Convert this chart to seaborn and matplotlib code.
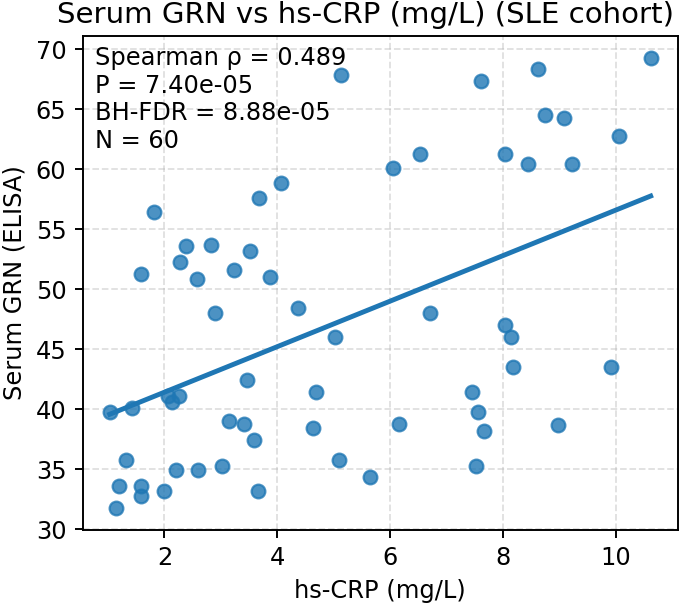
import numpy as np
import pandas as pd
import matplotlib
matplotlib.use("Agg")
import matplotlib.pyplot as plt
import seaborn as sns

# hs-CRP (mg/L) and serum GRN (ELISA)
crp = [5.13, 4.06, 3.67, 1.81, 2.38, 2.82, 3.52, 2.27, 3.24, 1.59, 2.58, 3.88,
       6.05, 6.53, 7.61, 8.63, 10.62, 8.75, 9.09, 8.04, 8.45, 9.23, 10.06,
       2.89, 4.36, 5.02, 3.46, 4.68, 1.03, 1.43, 2.06, 2.25, 2.13, 3.15, 3.41,
       3.59, 4.63, 1.32, 2.21, 2.60, 3.02, 5.09, 5.65, 1.19, 1.59, 1.58, 2.00,
       3.65, 1.15,
       6.70, 8.04, 8.14, 8.18, 9.91, 7.46, 7.55, 7.67, 7.53, 6.16, 8.98]
grn = [67.8, 58.8, 57.55, 56.4, 53.6, 53.7, 53.2, 52.3, 51.6, 51.25, 50.86, 51.0,
       60.13, 61.25, 67.33, 68.33, 69.22, 64.52, 64.28, 61.25, 60.42, 60.42, 62.75,
       48.05, 48.42, 46.0, 42.44, 41.42, 39.72, 40.1, 41.13, 41.08, 40.58, 39.0,
       38.78, 37.44, 38.44, 35.8, 34.92, 34.92, 35.25, 35.8, 34.33, 33.63, 33.63,
       32.72, 33.17, 33.17, 31.8,
       48.05, 47.03, 46.0, 43.5, 43.5, 41.42, 39.72, 38.17, 35.25, 38.78, 38.67]

stats_lines = ["Spearman \u03c1 = 0.489", "P = 7.40e-05", "BH-FDR = 8.88e-05", "N = 60"]

df = pd.DataFrame({"hs-CRP": crp, "GRN": grn})

plt.rcParams.update({
    "font.size": 10.85,
    "xtick.major.size": 3.8, "ytick.major.size": 3.8,
    "xtick.major.width": 0.87, "ytick.major.width": 0.87,
    "axes.linewidth": 0.87,
})

fig, ax = plt.subplots(figsize=(685 / 160, 607 / 160), dpi=160)
sns.regplot(data=df, x="hs-CRP", y="GRN", ci=None, ax=ax,
            color="#1f77b4", scatter_kws={"s": 38},
            line_kws={"lw": 2.2})

ax.grid(True, linestyle="--", alpha=0.4)
ax.set_axisbelow(True)
ax.set_xticks([2, 4, 6, 8, 10])
ax.set_xlabel("hs-CRP (mg/L)")
ax.set_ylabel("Serum GRN (ELISA)")
# the title sits a little left of the axes centre in the reference
ax.set_title("Serum GRN vs hs-CRP (mg/L) (SLE cohort)", fontsize=13.2, x=0.4745)
ax.text(0.02, 0.98, "\n".join(stats_lines), transform=ax.transAxes,
        va="top", ha="left", fontsize=10.85)

fig.subplots_adjust(left=0.1207, right=0.9894, bottom=0.1269, top=0.9407)
fig.savefig("out.png", dpi=160)
